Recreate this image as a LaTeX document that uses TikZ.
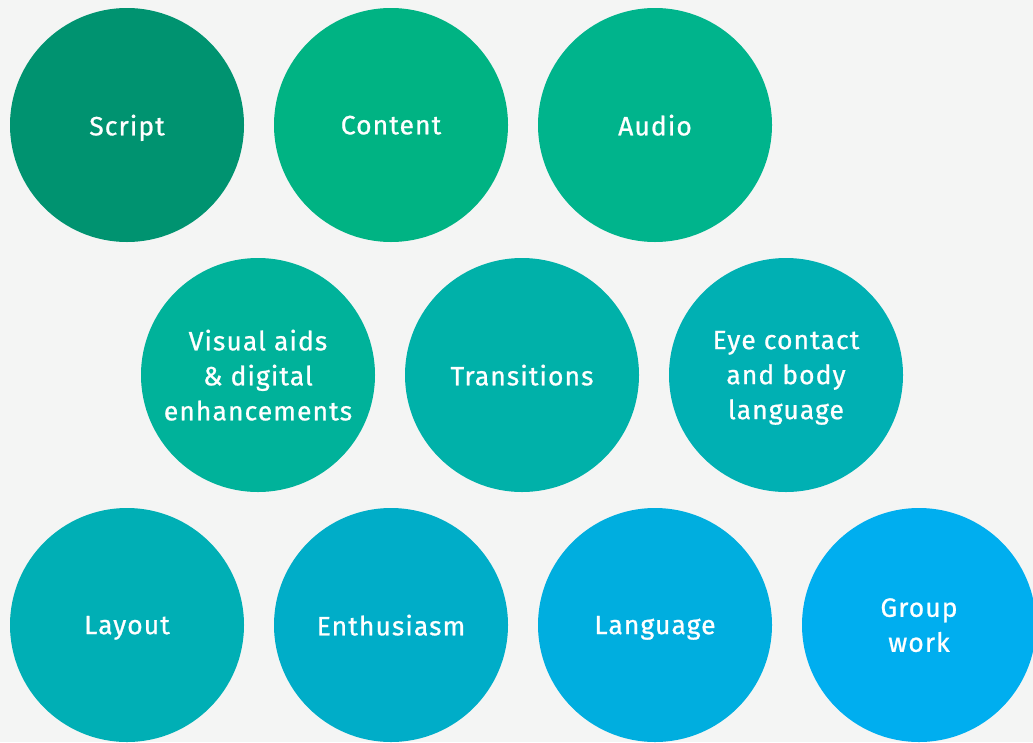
\documentclass[tikz,border=0pt]{standalone}
\usepackage{fontspec}
\setmainfont{Fira Sans}[LetterSpace=4,FakeBold=0.8]
\definecolor{bg}{HTML}{F4F5F4}
\definecolor{cA}{HTML}{009370}
\definecolor{cB}{HTML}{00B383}
\definecolor{cC}{HTML}{00B48C}
\definecolor{cD}{HTML}{00B29A}
\definecolor{cE}{HTML}{00B1A9}
\definecolor{cF}{HTML}{00B0B3}
\definecolor{cG}{HTML}{00AFB5}
\definecolor{cH}{HTML}{00ADC8}
\definecolor{cI}{HTML}{00AEDF}
\definecolor{cJ}{HTML}{00AEEF}
\newcommand\lbl[1]{\raisebox{0pt}[\height][0pt]{\vphantom{A}#1}}
\begin{document}
\begin{tikzpicture}[x=1pt,y=-1pt,
  bubble/.style={circle,minimum size=234pt,inner sep=0pt,text=white,align=center,
    font=\fontsize{26.5}{35}\selectfont}]
\useasboundingbox (0,0) rectangle (1033,742);
\fill[bg] (0,0) rectangle (1033,742);
\begin{scope}
\clip (0,0) rectangle (1033,742);
\node[bubble,fill=cA] (script) at (127,125) {\lbl{Script}};
\node[bubble,fill=cB] (content) at (391,125) {\lbl{Content}};
\node[bubble,fill=cC] (audio) at (655,125) {\lbl{Audio}};
\node[bubble,fill=cD] (visual) at (258,375) {\lbl{Visual aids}\\ \lbl{\& digital}\\ \lbl{enhancements}};
\node[bubble,fill=cE] (trans) at (522,375) {\lbl{Transitions}};
\node[bubble,fill=cF] (eye) at (786,375) {\lbl{Eye contact}\\ \lbl{and body}\\ \lbl{language}};
\node[bubble,fill=cG] (layout) at (127,625) {\lbl{Layout}};
\node[bubble,fill=cH] (enth) at (391,625) {\lbl{Enthusiasm}};
\node[bubble,fill=cI] (lang) at (655,625) {\lbl{Language}};
\node[bubble,fill=cJ] (group) at (919,625) {\lbl{Group}\\ \lbl{work}};
\end{scope}
\end{tikzpicture}
\end{document}
